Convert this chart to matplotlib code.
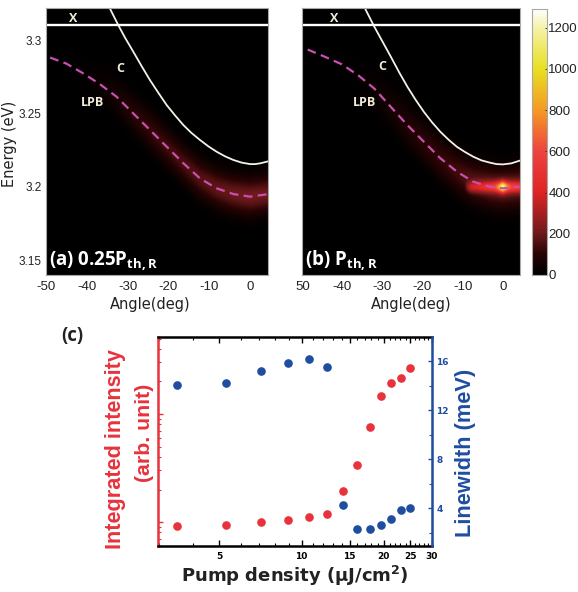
import numpy as np
import matplotlib
matplotlib.use("Agg")
import matplotlib.pyplot as plt
from matplotlib.colors import LinearSegmentedColormap
from matplotlib.ticker import FixedLocator, FixedFormatter, NullFormatter

W, H = 578, 592

# panel (a)
a_angle = [-49, -45, -40.8, -36.8, -32.7, -28.6, -24.5, -20.4, -16.3, -12.3, -8.2, -4.1, 0, 4.1]
a_lpb = [3.2882, 3.2841, 3.2773, 3.2701, 3.2615, 3.2501, 3.2388, 3.2274, 3.2161, 3.2059, 3.1991, 3.1952, 3.1934, 3.195]
a_glow = [3, 5, 12, 28, 60, 95, 120, 135, 150, 165, 180, 195, 205, 200]
a_c_angle = [-34.31, -32.27, -30.64, -28.59, -26.55, -24.51, -22.47, -20.42, -18.38, -16.34, -14.3,
             -12.25, -10.21, -8.17, -6.13, -4.08, -2.04, 0, 1.23, 2.45, 4.49]
a_c = [3.3215, 3.3102, 3.3018, 3.2921, 3.2823, 3.2728, 3.2642, 3.2558, 3.2488, 3.2422, 3.2367,
       3.232, 3.2277, 3.224, 3.2209, 3.2184, 3.2166, 3.2156, 3.2156, 3.2161, 3.2175]

# panel (b)
b_angle = [-48.4, -44.1, -40, -35.9, -31.9, -27.8, -23.7, -19.6, -15.5, -11.4, -7.4, -3.3, 0, 4.1]
b_lpb = [3.2937, 3.2887, 3.2837, 3.2762, 3.2671, 3.2546, 3.2422, 3.2308, 3.2195, 3.2104, 3.2036, 3.2002, 3.1991, 3.2002]
b_glow = [4, 5, 7, 12, 30, 55, 80, 100, 115, 135, 165, 190, 200, 195]
b_c_angle = [-34.15, -31.86, -29.82, -27.78, -25.74, -23.69, -21.65, -19.61, -17.57, -15.52,
             -13.48, -11.44, -9.4, -7.35, -5.31, -3.27, -1.63, 0, 2.04, 4.08]
b_c = [3.3215, 3.3091, 3.2989, 3.2887, 3.2782, 3.2683, 3.2594, 3.2512, 3.244, 3.2376,
       3.2322, 3.2274, 3.2238, 3.2206, 3.2181, 3.2166, 3.2156, 3.2154, 3.2161, 3.2179]
core_angle = [-9.5, -8, -6, -4, -2, -1, 0, 1, 2, 4.2]
core_amp = [0, 230, 270, 320, 400, 620, 1080, 620, 420, 340]

x_energy = 3.3102
color_ticks = [0, 200, 400, 600, 800, 1000, 1200]
energy_ticks = [3.15, 3.2, 3.25, 3.3]
energy_labels = ["3.15", "3.2", "3.25", "3.3"]
angle_labels_a = ["-50", "-40", "-30", "-20", "-10", "0"]
angle_labels_b = ["50", "-40", "-30", "-20", "-10", "0"]

# panel (c)
pump = [3.5, 5.3, 7.1, 8.9, 10.6, 12.4, 14.2, 16, 17.8, 19.5, 21.3, 23.1, 25]
intensity = [0.925, 0.938, 1.007, 1.04, 1.11, 1.186, 1.94, 3.37, 7.63, 14.7, 19.5, 21.4, 26.7]
linewidth = [14.03, 14.2, 15.2, 15.8, 16.2, 15.5, 4.25, 2.3, 2.27, 2.6, 3.1, 3.8, 4.0]
pump_ticks = [5, 10, 15, 20, 25, 30]
pump_minor = [3, 4, 6, 7, 8, 9, 11, 12, 13, 14, 16, 17, 18, 19, 21, 22, 23, 24, 26, 27, 28, 29]
width_ticks = [4, 8, 12, 16]

RED = "#e8323c"
BLUE = "#1f4ea1"
CREAM = "#f2ecd8"
DARK = "#222222"
TICK_FONT = "Liberation Sans"

cmap = LinearSegmentedColormap.from_list("heat", [
    (0, "#000000"), (0.08, "#2a0404"), (0.155, "#6e1a1c"), (0.31, "#e02424"),
    (0.465, "#ee4440"), (0.62, "#f59a24"), (0.775, "#e8e020"), (0.93, "#f6f2a8"), (1, "#ffffff")])


def px_axes(fig, left, top, right, bottom):
    return fig.add_axes([left / W, 1 - bottom / H, (right - left) / W, (bottom - top) / H])


def px_text(fig, x, y, s, **kw):
    kw.setdefault("ha", "center")
    kw.setdefault("va", "center")
    fig.text(x / W, 1 - y / H, s, **kw)


def heat_panel(ax, angle, lpb, glow, c_angle, c, xlim, sigma, core=False):
    xs = np.linspace(xlim[0], xlim[1], 300)
    ys = np.linspace(3.14, 3.322, 400)
    center = np.interp(xs, angle, lpb)
    amp = np.interp(xs, angle, glow)
    gx, gy = np.meshgrid(xs, ys)
    img = amp * np.exp(-((gy - center) / sigma) ** 2 / 2)
    if core:
        camp = np.interp(xs, core_angle, core_amp, left=0)
        img = img + camp * np.exp(-((gy - 3.2) / 0.0026) ** 2 / 2)
    ax.imshow(img, extent=[xlim[0], xlim[1], 3.14, 3.322], origin="lower", aspect="auto",
              cmap=cmap, vmin=0, vmax=1290, interpolation="bilinear")
    ax.plot(angle, lpb, color="#c850b0", lw=1.6, ls=(0, (4, 2.4)))
    ax.plot(c_angle, c, color="#f4f1e6", lw=1.3)
    ax.axhline(x_energy, color="white", lw=1.7)
    ax.set_xlim(xlim)
    ax.set_ylim(3.14, 3.322)
    for s in ax.spines.values():
        s.set_color("#a8a8a8")
        s.set_linewidth(0.8)
    ax.tick_params(axis="x", length=0, pad=4, labelsize=9.5, labelcolor=DARK)
    ax.tick_params(axis="y", length=0, pad=3, labelsize=8.5, labelcolor=DARK)
    for t in ax.get_xticklabels() + ax.get_yticklabels():
        t.set_family(TICK_FONT)


fig = plt.figure(figsize=(W / 100, H / 100), dpi=100)

ax1 = px_axes(fig, 46, 8, 268, 275)
ax1.set_xticks([-50, -40, -30, -20, -10, 0])
ax1.set_xticklabels(angle_labels_a)
ax1.set_yticks(energy_ticks)
ax1.set_yticklabels(energy_labels)
heat_panel(ax1, a_angle, a_lpb, a_glow, a_c_angle, a_c, (-50, 4.4), 0.0085)

ax2 = px_axes(fig, 302, 8, 520, 275)
ax2.set_xticks([-49.7, -40, -30, -20, -10, 0])
ax2.set_xticklabels(angle_labels_b)
ax2.set_yticks([])
heat_panel(ax2, b_angle, b_lpb, b_glow, b_c_angle, b_c, (-49.8, 4.2), 0.0095, core=True)

cax = px_axes(fig, 532, 9, 547, 275)
grad = np.linspace(0, 1290, 256).reshape(-1, 1)
cax.imshow(grad, extent=[0, 1, 0, 1290], origin="lower", aspect="auto", cmap=cmap, vmin=0, vmax=1290)
cax.set_xticks([])
cax.yaxis.tick_right()
cax.set_yticks(color_ticks)
cax.tick_params(axis="y", length=1.5, width=0.6, pad=1, labelsize=9.5, direction="in", labelcolor=DARK, color=DARK)
for t in cax.get_yticklabels():
    t.set_family(TICK_FONT)
for s in cax.spines.values():
    s.set_color("#a8a8a8")
    s.set_linewidth(0.8)

# labels on the maps
for x, y, s in [(73, 18, "X"), (120, 68, "C"), (93, 103, "LPB"), (334, 18, "X"), (382, 66, "C"), (365, 103, "LPB")]:
    px_text(fig, x, y, s, color=CREAM, fontsize=9, fontweight="bold", family="Open Sans")
px_text(fig, 49, 261, r"(a) 0.25P$\mathdefault{_{th,R}}$", color="white", fontsize=13.5, fontweight="bold",
        family="Open Sans", ha="left")
px_text(fig, 305, 261, r"(b) P$\mathdefault{_{th,R}}$", color="white", fontsize=13.5, fontweight="bold",
        family="Open Sans", ha="left")
px_text(fig, 150, 304, "Angle(deg)", fontsize=10.5, color=DARK)
px_text(fig, 411, 304, "Angle(deg)", fontsize=10.5, color=DARK)
px_text(fig, 10, 144, "Energy (eV)", fontsize=10.5, color=DARK, rotation=90)

# panel (c)
ax3 = px_axes(fig, 158, 337, 432, 546)
ax3.set_xscale("log")
ax3.set_yscale("log")
ax3.set_xlim(2.98, 30)
ax3.set_ylim(10 ** -0.222, 10 ** 1.713)
ax3.scatter(pump, intensity, s=27, color=RED, zorder=3, clip_on=False)
ax3.xaxis.set_major_locator(FixedLocator(pump_ticks))
ax3.xaxis.set_minor_locator(FixedLocator(pump_minor))
ax3.xaxis.set_major_formatter(FixedFormatter([str(v) for v in pump_ticks]))
ax3.xaxis.set_minor_formatter(NullFormatter())
ax3.tick_params(axis="x", which="major", top=True, direction="in", length=4, width=1, labelsize=6.5, pad=4)
ax3.tick_params(axis="x", which="minor", top=True, direction="in", length=2, width=0.8)
ax3.tick_params(axis="y", which="major", color=RED, direction="in", length=3.5, width=1, labelleft=False)
ax3.tick_params(axis="y", which="minor", color=RED, direction="in", length=2, width=0.8, labelleft=False)
ax3.yaxis.set_minor_formatter(NullFormatter())
for t in ax3.get_xticklabels():
    t.set_fontweight("bold")
ax3.spines["top"].set_linewidth(1.8)
ax3.spines["bottom"].set_linewidth(1.8)
ax3.spines["left"].set_color(RED)
ax3.spines["left"].set_linewidth(1.8)

ax4 = ax3.twinx()
ax4.set_yscale("linear")
ax4.set_ylim(0.9, 17.96)
ax4.scatter(pump, linewidth, s=27, color=BLUE, zorder=3, clip_on=False)
ax4.set_yticks(width_ticks)
ax4.set_yticks([2, 6, 10, 14], minor=True)
ax4.tick_params(axis="y", which="major", colors=BLUE, direction="in", length=3, width=1, labelsize=6.5, pad=3)
ax4.tick_params(axis="y", which="minor", colors=BLUE, direction="in", length=2, width=0.8)
for t in ax4.get_yticklabels():
    t.set_fontweight("bold")
for name in ["left", "top", "bottom"]:
    ax4.spines[name].set_visible(False)
ax4.spines["right"].set_color(BLUE)
ax4.spines["right"].set_linewidth(1.8)

px_text(fig, 72, 336, "(c)", fontsize=13.5, fontweight="bold", color=DARK, family="Open Sans")
px_text(fig, 115, 449, "Integrated intensity", fontsize=15.6, color=RED, rotation=90, family="Liberation Sans",
        fontweight="bold")
px_text(fig, 145, 433, "(arb. unit)", fontsize=15.3, color=RED, rotation=90, family="Liberation Sans",
        fontweight="bold")
px_text(fig, 465, 453, "Linewidth (meV)", fontsize=15.7, color=BLUE, rotation=90, family="Liberation Sans",
        fontweight="bold")
px_text(fig, 295, 576, r"Pump density ($\mathdefault{\mu}$J/cm$\mathdefault{^2}$)", fontsize=13, fontweight="bold",
        color=DARK, family="DejaVu Sans")

plt.savefig("out.png", dpi=100)
plt.close()
